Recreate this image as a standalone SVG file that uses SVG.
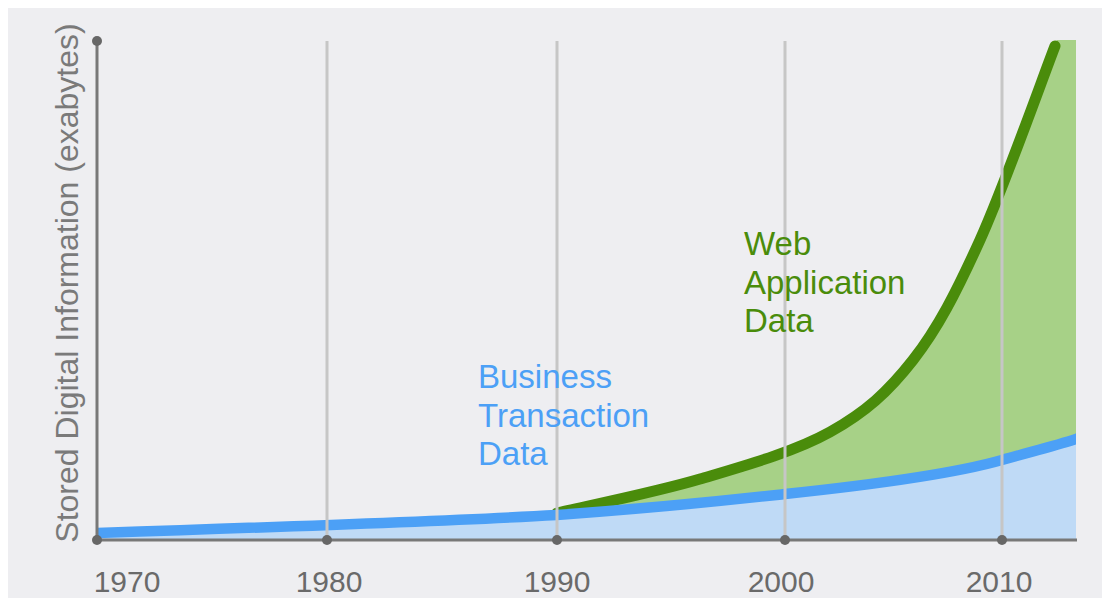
<svg xmlns="http://www.w3.org/2000/svg" width="1102" height="599" viewBox="0 0 1102 599">
<style>
.grid{stroke:#c6c6c6;stroke-width:3;fill:none}
.axis{stroke:#787878;stroke-width:3;fill:none}
.dot{fill:#676767}
.year{font-family:"Liberation Sans",Arial,sans-serif;font-size:30px;fill:#6a6a6a}
.ylab{font-family:"Liberation Sans",Arial,sans-serif;font-size:32px;fill:#7a7a7a}
.lbl{font-family:"Liberation Sans",Arial,sans-serif;font-size:33px}
</style>
<defs>
<clipPath id="plot"><rect x="97" y="40" width="979" height="500"/></clipPath>
</defs>
<rect x="0" y="0" width="1102" height="599" fill="#ffffff"/>
<rect x="8" y="8" width="1094" height="590" fill="#eeeef1"/>
<g id="areas" clip-path="url(#plot)">
<path id="web-fill" d="M557,513 C580.8,507.3 654.5,492.5 700,479 C745.5,465.5 794.5,451.8 830,432 C865.5,412.2 888,392 913,360 C938,328 956.3,292.3 980,240 C1003.7,187.7 1042.5,78.3 1055,46 L1057,40 L1076,40 L1076,540 L557,540 Z" fill="#a7d187"/>
<path id="web-line" d="M557,513 C580.8,507.3 654.5,492.5 700,479 C745.5,465.5 794.5,451.8 830,432 C865.5,412.2 888,392 913,360 C938,328 956.3,292.3 980,240 C1003.7,187.7 1042.5,78.3 1055,46" fill="none" stroke="#4a8c0b" stroke-width="11" stroke-linecap="round"/>
<path id="biz-fill" d="M97,533 C250,528 450,521 557,515 C680,506 740,499 785,494 C880,484 960,472 1002,460 C1030,452 1055,446 1076,439 L1076,540 L97,540 Z" fill="#bfdaf6"/>
<path id="biz-line" d="M90,533 L97,533 C250,528 450,521 557,515 C680,506 740,499 785,494 C880,484 960,472 1002,460 C1030,452 1055,446 1076,439 L1086,435" fill="none" stroke="#4ca0f6" stroke-width="10.5"/>
</g>
<g id="gridlines">
<line class="grid" x1="327" y1="41" x2="327" y2="540"/>
<line class="grid" x1="557" y1="41" x2="557" y2="540"/>
<line class="grid" x1="785" y1="41" x2="785" y2="540"/>
<line class="grid" x1="1002" y1="41" x2="1002" y2="540"/>
</g>
<g id="axes">
<line class="axis" x1="97" y1="41" x2="97" y2="540"/>
<line class="axis" x1="97" y1="540" x2="1077" y2="540"/>
<circle class="dot" cx="97" cy="41" r="5"/>
<circle class="dot" cx="97" cy="540" r="5"/>
<circle class="dot" cx="327" cy="540" r="5"/>
<circle class="dot" cx="557" cy="540" r="5"/>
<circle class="dot" cx="785" cy="540" r="5"/>
<circle class="dot" cx="1002" cy="540" r="5"/>
</g>
<g id="years">
<text class="year" x="127" y="592" text-anchor="middle">1970</text>
<text class="year" x="329" y="592" text-anchor="middle">1980</text>
<text class="year" x="557" y="592" text-anchor="middle">1990</text>
<text class="year" x="781" y="592" text-anchor="middle">2000</text>
<text class="year" x="999" y="592" text-anchor="middle">2010</text>
</g>
<g id="y-label">
<text class="ylab" transform="translate(78,283) rotate(-90)" text-anchor="middle">Stored Digital Information (exabytes)</text>
</g>
<g id="label-web">
<text class="lbl" fill="#4a8c0b" x="744" y="255">Web</text>
<text class="lbl" fill="#4a8c0b" x="744" y="294">Application</text>
<text class="lbl" fill="#4a8c0b" x="744" y="332">Data</text>
</g>
<g id="label-business">
<text class="lbl" fill="#4ca0f6" x="478" y="388">Business</text>
<text class="lbl" fill="#4ca0f6" x="478" y="427">Transaction</text>
<text class="lbl" fill="#4ca0f6" x="478" y="465">Data</text>
</g>
</svg>
